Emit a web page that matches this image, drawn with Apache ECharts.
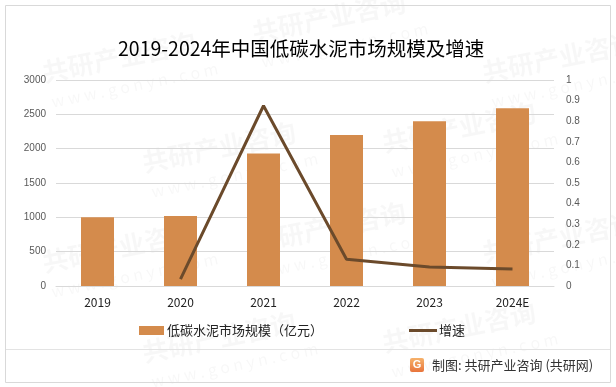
<!DOCTYPE html>
<html><head><meta charset="utf-8">
<script src="https://cdn.jsdelivr.net/npm/echarts@6/dist/echarts.min.js"></script>
<style>html,body{margin:0;padding:0;background:#fff}#c{width:616px;height:387px}</style>
</head><body><div id="c"></div>
<script>
const categories = ['2019','2020','2021','2022','2023','2024E'];
const marketSize = [1000, 1020, 1930, 2200, 2400, 2590];
const growth = [null, 0.033, 0.875, 0.13, 0.092, 0.083];
const leftTicks = {min:0, max:3000, interval:500};
const rightTicks = {min:0, max:1, interval:0.1};
const titleText = '2019-2024年中国低碳水泥市场规模及增速';
const barName = '低碳水泥市场规模（亿元）';
const lineName = '增速';
const footerText = '制图: 共研产业咨询 (共研网)';

const CJK = "'Noto Sans CJK SC', 'Liberation Sans', sans-serif";
const wm = [];
const wmPos = [[40,60],[250,20],[480,60],[140,150],[380,130],[40,250],[250,230],[480,240],[140,340],[380,330]];
wmPos.forEach(p=>{
  wm.push({type:'text', x:p[0], y:p[1], rotation:0.2, z:-1, silent:true,
    style:{text:'共研产业咨询', fill:'rgba(0,0,0,0.03)', font:"bold 26px "+CJK}});
  wm.push({type:'text', x:p[0]+10, y:p[1]+34, rotation:0.2, z:-1, silent:true,
    style:{text:'w w w . g o n y n . c o m', fill:'rgba(0,0,0,0.03)', font:"16px "+CJK}});
});

const chart = echarts.init(document.getElementById('c'), null, {renderer:'canvas'});
chart.setOption({
  animation:false,
  backgroundColor:'#fff',
  title:{text:titleText, left:113, top:34,
    textStyle:{fontFamily:CJK, fontSize:19.5, fontWeight:'normal', color:'#000'}},
  grid:{left:56, right:62, top:80, bottom:101},
  legend:[
    {left:139, top:324, padding:0, itemWidth:25, itemHeight:9, itemGap:0,
      textStyle:{fontFamily:CJK, fontSize:13, color:'#222', padding:[0,0,0,-2]},
      data:[{name:barName, icon:'rect'}]},
    {left:409, top:324, padding:0, itemWidth:28, itemHeight:3, itemGap:0,
      textStyle:{fontFamily:CJK, fontSize:13, color:'#222', padding:[0,0,0,-3]},
      data:[{name:lineName, icon:'rect', itemStyle:{color:'#6b4a2b'}}]}
  ],
  xAxis:{type:'category', data:categories,
    axisLine:{lineStyle:{color:'#d9d9d9'}}, axisTick:{show:false},
    axisLabel:{fontFamily:CJK, fontSize:12, color:'#222', margin:10}},
  yAxis:[
    {type:'value', min:leftTicks.min, max:leftTicks.max, interval:leftTicks.interval,
      axisLine:{show:false}, axisTick:{show:false},
      splitLine:{lineStyle:{color:'#d9d9d9'}},
      axisLabel:{fontFamily:"'Liberation Sans', sans-serif", fontSize:10, color:'#595959', margin:10,
        formatter:v=>String(v)}},
    {type:'value', min:rightTicks.min, max:rightTicks.max, interval:rightTicks.interval,
      axisLine:{show:false}, axisTick:{show:false}, splitLine:{show:false},
      axisLabel:{fontFamily:"'Liberation Sans', sans-serif", fontSize:10, color:'#595959', margin:12,
        formatter:v=>String(Math.round(v*10)/10)}}
  ],
  series:[
    {name:barName, type:'bar', data:marketSize, barWidth:33, itemStyle:{color:'#d48b4c'}},
    {name:lineName, type:'line', yAxisIndex:1, data:growth, showSymbol:false, symbol:'none',
      lineStyle:{color:'#6b4a2b', width:3}, itemStyle:{color:'#6b4a2b'}}
  ],
  graphic: wm.concat([
    {type:'rect', shape:{x:5.5, y:5.5, width:605, height:377}, silent:true,
      style:{fill:'none', stroke:'#d9d9d9', lineWidth:1}},
    {type:'line', shape:{x1:6, y1:349.5, x2:610, y2:349.5}, silent:true,
      style:{stroke:'#e3e3e3', lineWidth:1}},
    {type:'rect', shape:{x:410, y:358, width:14, height:14, r:2}, silent:true,
      style:{fill:new echarts.graphic.LinearGradient(0,0,0,1,[{offset:0,color:'#f6b26b'},{offset:1,color:'#e8743b'}])}},
    {type:'text', x:417, y:365, silent:true,
      style:{text:'G', fill:'#fff', font:"bold 11px 'Liberation Sans'", textAlign:'center', textVerticalAlign:'middle'}},
    {type:'text', x:432, y:365, silent:true,
      style:{text:footerText, fill:'#333', font:"13px "+CJK, textVerticalAlign:'middle'}}
  ])
});
</script></body></html>
